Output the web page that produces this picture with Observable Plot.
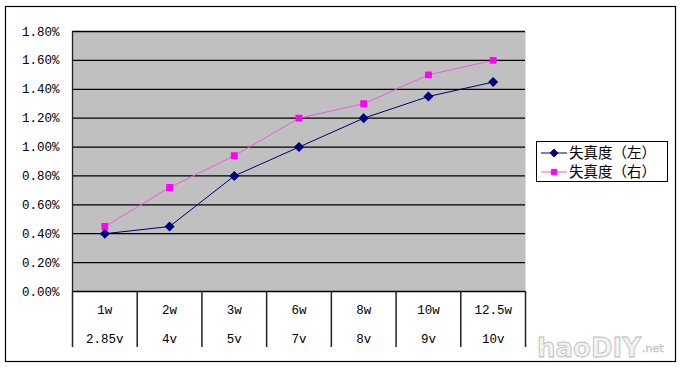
<!DOCTYPE html>
<html><head><meta charset="utf-8">
<script src="https://cdn.jsdelivr.net/npm/d3@7"></script>
<script src="https://cdn.jsdelivr.net/npm/@observablehq/plot@0.6"></script>
<style>body{margin:0;background:#fff} #chart svg{display:block}</style>
</head><body><div id="chart"></div>
<script>
const powers = ["1w","2w","3w","6w","8w","10w","12.5w"];
const voltages = ["2.85v","4v","5v","7v","8v","9v","10v"];
const leftDist = [0.40,0.45,0.80,1.00,1.20,1.35,1.45];
const rightDist = [0.45,0.72,0.94,1.20,1.30,1.50,1.60];
const yTicks = [0,0.2,0.4,0.6,0.8,1.0,1.2,1.4,1.6,1.8];
const seriesNames = ["失真度（左）","失真度（右）"];
const seriesColors = ["#000080","#ff00ff"];
const lineColors = ["#000060","#e060e0"];

const centers = powers.map((_, i) => i + 0.5);
const bounds = d3.range(powers.length + 1);
const left = powers.map((p, i) => ({x: centers[i], y: leftDist[i]}));
const right = powers.map((p, i) => ({x: centers[i], y: rightDist[i]}));
const monoFont = "'Liberation Mono', 'DejaVu Sans Mono', monospace";

const svg = Plot.plot({
  width: 680, height: 367,
  marginLeft: 72, marginRight: 155, marginTop: 31, marginBottom: 76,
  style: {fontFamily: monoFont, fontSize: "12.5px", color: "#000", background: "#fff", overflow: "visible"},
  x: {type: "linear", domain: [0, powers.length], label: null},
  y: {domain: [0, 1.8], label: null},
  marks: [
    Plot.frame({fill: "#c0c0c0", stroke: null}),
    Plot.ruleY(yTicks, {stroke: "#000", strokeWidth: 1.3}),
    Plot.ruleX([0], {stroke: "#222", strokeWidth: 1.3}),
    Plot.axisX(bounds, {tickSize: 56, tickFormat: () => "", label: null, stroke: "#222", strokeWidth: 1.5}),
    Plot.axisX(centers, {tickSize: 0, tickPadding: 14, label: null, tickFormat: (d, i) => powers[i], fontSize: 12.5, fill: "#000"}),
    Plot.axisX(centers, {tickSize: 0, tickPadding: 43, label: null, tickFormat: (d, i) => voltages[i], fontSize: 12.5, fill: "#000"}),
    Plot.axisY(yTicks, {tickSize: 0, tickPadding: 13, label: null, tickFormat: d => d.toFixed(2) + "%", fontSize: 12.5, fill: "#000"}),
    Plot.line(left, {x: "x", y: "y", stroke: lineColors[0], strokeWidth: 1}),
    Plot.line(right, {x: "x", y: "y", stroke: lineColors[1], strokeWidth: 1}),
    Plot.dot(left, {x: "x", y: "y", symbol: "diamond2", r: 3.6, fill: seriesColors[0], stroke: seriesColors[0]}),
    Plot.dot(right, {x: "x", y: "y", symbol: "square2", r: 3.4, fill: seriesColors[1], stroke: seriesColors[1]})
  ]
});

const s = d3.select(svg);
// outer chart border
s.append("rect").attr("x", 5.5).attr("y", 6.5).attr("width", 670).attr("height", 355)
  .attr("fill", "none").attr("stroke", "#000").attr("stroke-width", 1.2);
// legend
const lg = s.append("g").attr("transform", "translate(536,141)");
lg.append("rect").attr("x", 0.5).attr("y", 0.5).attr("width", 131).attr("height", 40)
  .attr("fill", "#fff").attr("stroke", "#000").attr("stroke-width", 1);
const syms = [d3.symbolDiamond2, d3.symbolSquare2];
seriesNames.forEach((name, i) => {
  const cy = 12 + i * 19;
  lg.append("line").attr("x1", 5).attr("x2", 31).attr("y1", cy).attr("y2", cy)
    .attr("stroke", lineColors[i]).attr("stroke-width", 1);
  lg.append("path").attr("transform", `translate(18,${cy})`)
    .attr("d", d3.symbol(syms[i], i === 0 ? 40 : 36)())
    .attr("fill", seriesColors[i]).attr("stroke", seriesColors[i]);
  lg.append("text").attr("x", 33).attr("y", cy).attr("dy", "0.36em").attr("text-anchor", "start")
    .attr("font-family", "'Noto Sans CJK SC', sans-serif").attr("font-size", 14.5)
    .attr("fill", "#000").text(name);
});
// faint watermark
s.append("text").attr("x", 537).attr("y", 357).attr("text-anchor", "start").attr("font-family", "'DejaVu Sans', sans-serif")
  .attr("font-size", 26).attr("font-weight", "bold").attr("fill", "#f2f2f2").attr("stroke", "#bbb")
  .attr("stroke-width", 0.8).text("haoDIY");
s.append("text").attr("x", 642).attr("y", 352).attr("text-anchor", "start").attr("font-family", "'DejaVu Sans', sans-serif")
  .attr("font-size", 11).attr("fill", "#eee").attr("stroke", "#bbb").attr("stroke-width", 0.5).text(".net");

document.getElementById("chart").appendChild(svg);
</script>
</body></html>
